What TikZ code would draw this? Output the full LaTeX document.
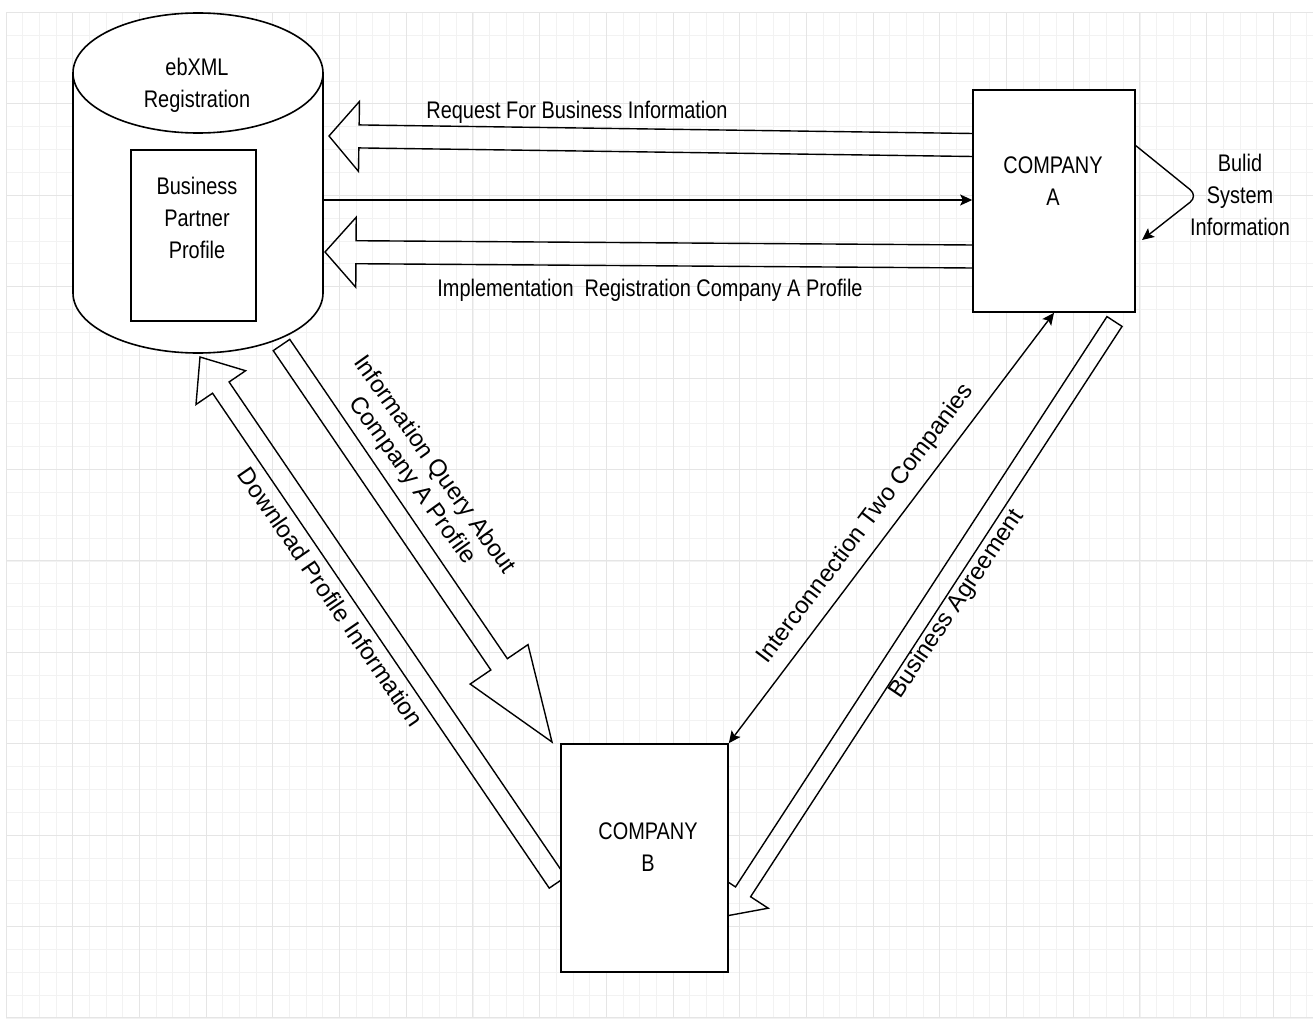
\documentclass[tikz,border=0pt]{standalone}
\usepackage{fontspec}
\setmainfont{Liberation Sans}[FakeStretch=0.83]
\newfontfamily\diagfont{Liberation Sans}
\usetikzlibrary{arrows.meta, calc}
\def\cellw{66.7}
\def\cellh{91.4}

% hollow block arrow: tail, tip, half shaft, half head, head length
\newcommand{\flexarrow}[5]{%
    \coordinate (fa-base) at ($(#2)!#5!(#1)$);
    \draw[flex arrow] ($(#1)!#3!90:(#2)$) -- ($(fa-base)!#3!-90:(#1)$)
        -- ($(fa-base)!#4!-90:(#1)$) -- (#2) -- ($(fa-base)!#4!90:(#1)$)
        -- ($(fa-base)!#3!90:(#1)$) -- ($(#1)!#3!-90:(#2)$) -- cycle;}

\begin{document}
\begin{tikzpicture}[x=1pt, y=-1pt]
    \tikzstyle{minor grid}=[draw=black!5, line width=0.8pt]
    \tikzstyle{major grid}=[draw=black!10, line width=1pt]
    \tikzstyle{box}=[rectangle, draw=black, fill=white, line width=1.6pt, inner sep=0pt]
    \tikzstyle{flex arrow}=[draw=black, line width=1.4pt, line join=miter]
    \tikzstyle{link}=[draw=black, line width=1.4pt, -{Stealth[length=12pt, width=11pt, inset=2.5pt]}]
    \tikzstyle{link both}=[link, {Stealth[length=12pt, width=11pt, inset=2.5pt]}-{Stealth[length=12pt, width=11pt, inset=2.5pt]}]
    \tikzstyle{annot}=[font=\fontsize{24}{32}\selectfont, align=center, inner sep=0pt]
    \tikzstyle{diag annot}=[annot, font=\diagfont\fontsize{24}{27}\selectfont]

    % Draw the page and its grid
    \fill[white] (0,0) rectangle (1313,1022);
    \useasboundingbox (0,0) rectangle (1313,1022);
    \foreach \i in {0,...,78}
        \draw[minor grid] ({6+\i*\cellw/4},12.5) -- ({6+\i*\cellw/4},1018);
    \foreach \j in {0,...,44}
        \draw[minor grid] (6,{12.5+\j*\cellh/4}) -- (1313,{12.5+\j*\cellh/4});
    \foreach \i in {0,...,19}
        \draw[major grid] ({6+\i*\cellw},12.5) -- ({6+\i*\cellw},1018);
    \foreach \j in {0,...,11}
        \draw[major grid] (6,{12.5+\j*\cellh}) -- (1313,{12.5+\j*\cellh});

    % Ends of the block arrows
    \coordinate (req-tail) at (973,145);
    \coordinate (req-tip) at (329,136);
    \coordinate (impl-tail) at (973,256.5);
    \coordinate (impl-tip) at (325,252);
    \coordinate (query-tail) at (281.5,345);
    \coordinate (query-tip) at (552,742);
    \coordinate (down-tail) at (557.5,882.5);
    \coordinate (down-tip) at (200,357);
    \coordinate (agree-tail) at (1114.5,321.5);
    \coordinate (agree-tip) at (727.5,915.7);

    % Draw the block arrows below the shapes
    \flexarrow{req-tail}{req-tip}{11.5pt}{35pt}{30pt}
    \flexarrow{impl-tail}{impl-tip}{11.5pt}{35pt}{31pt}
    \flexarrow{query-tail}{query-tip}{10pt}{35pt}{94pt}
    \flexarrow{down-tail}{down-tip}{10pt}{30pt}{37pt}
    \flexarrow{agree-tail}{agree-tip}{9pt}{30pt}{28.5pt}

    % Draw the registry cylinder
    \node[minimum width=250pt, minimum height=340pt, inner sep=0pt] (reg) at (198,183) {};
    \draw[box] (73,73) -- (73,293) arc[start angle=180, end angle=360, x radius=125pt, y radius=60pt]
        -- (323,73) arc[start angle=0, end angle=180, x radius=125pt, y radius=60pt] -- cycle;
    \draw[box, fill=none] (73,73) arc[start angle=180, end angle=360, x radius=125pt, y radius=60pt];
    \node[box, minimum width=125pt, minimum height=171pt] (bpp) at (193.5,235.5) {};

    % Draw the two companies
    \node[box, minimum width=162pt, minimum height=222pt] (compA) at (1054,201) {};
    \node[box, minimum width=167pt, minimum height=228pt] (compB) at (644.5,858) {};

    % Texts of the shapes
    \node[annot] (reg-title) at (197,85) {ebXML\\Registration};
    \node[annot] (bpp-title) at (197,218) {Business\\Partner\\Profile};
    \node[annot] (compA-title) at (1053,181) {COMPANY\\A};
    \node[annot] (compB-title) at (648,847) {COMPANY\\B};

    % Thin connectors
    \coordinate (reg-out) at (323,200);
    \draw[link] (reg-out) -- (reg-out -| compA.west);
    \draw[link both] (compB.north east) -- (compA.south);
    \coordinate (loop-start) at (1135,145);
    \coordinate (loop-end) at (1142,240);
    \draw[link, rounded corners=10pt] (loop-start) -- (1198,196) -- (loop-end);

    % Labels of the arrows
    \node[annot] (loop-label) at (1240,195) {Bulid\\System\\Information};
    \node[annot] (req-label) at (577,112) {Request For Business Information};
    \node[annot] (impl-label) at (650,290) {Implementation\ \ Registration Company A Profile};
    \node[diag annot, rotate=-54.5] (query-label) at (423,473) {Information Query About\\Company A Profile};
    \node[diag annot, rotate=-55.6] (down-label) at (331,597) {Download Profile Information};
    \node[diag annot, rotate=53] (inter-label) at (866,524) {Interconnection Two Companies};
    \node[diag annot, rotate=56] (agree-label) at (957,604) {Business Agreement};
\end{tikzpicture}
\end{document}
